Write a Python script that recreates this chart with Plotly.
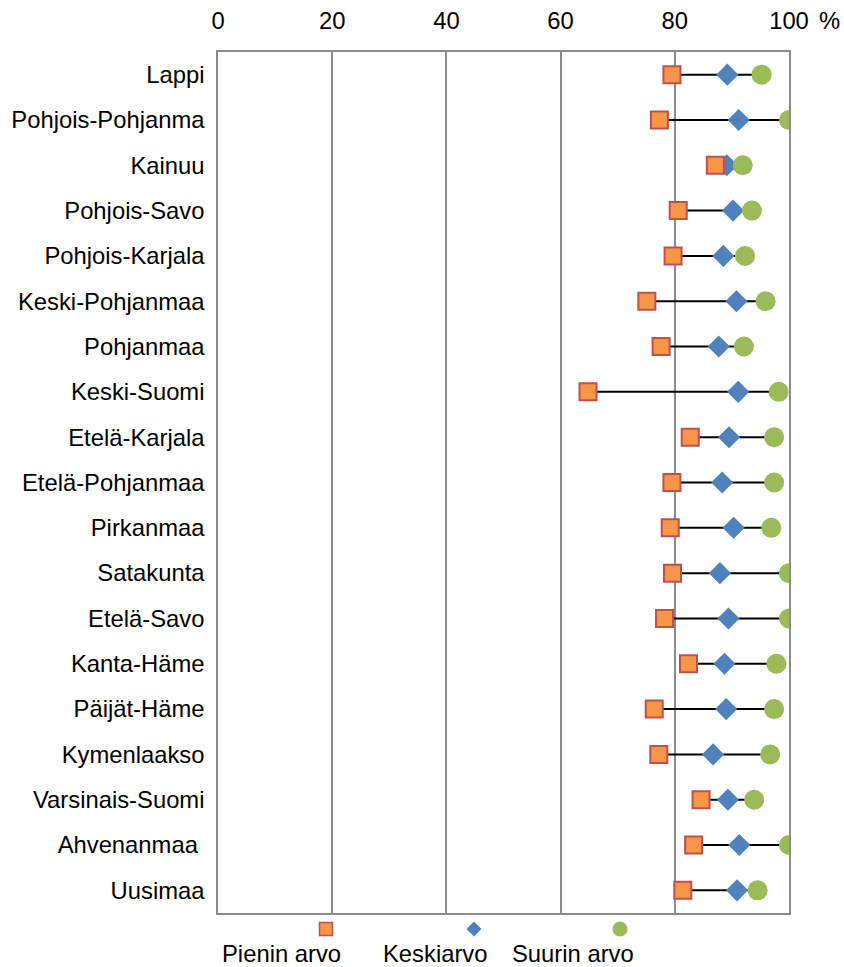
import plotly.graph_objects as go

regions = ["Lappi", "Pohjois-Pohjanma", "Kainuu", "Pohjois-Savo", "Pohjois-Karjala",
           "Keski-Pohjanmaa", "Pohjanmaa", "Keski-Suomi", "Etelä-Karjala", "Etelä-Pohjanmaa",
           "Pirkanmaa", "Satakunta", "Etelä-Savo", "Kanta-Häme", "Päijät-Häme",
           "Kymenlaakso", "Varsinais-Suomi", "Ahvenanmaa\u00a0", "Uusimaa"]
pienin = [79.5, 77.3, 87.1, 80.6, 79.7, 75.1, 77.6, 64.8, 82.7, 79.5,
          79.2, 79.6, 78.2, 82.4, 76.4, 77.2, 84.6, 83.3, 81.4]
keski = [89.2, 91.2, 89.1, 90.2, 88.5, 90.8, 87.7, 91.1, 89.5, 88.3,
         90.3, 87.9, 89.4, 88.7, 89.0, 86.7, 89.3, 91.3, 90.9]
suurin = [95.2, 100, 91.9, 93.5, 92.3, 95.9, 92.1, 98.2, 97.4, 97.4,
          96.9, 100, 100, 97.8, 97.4, 96.7, 93.9, 100, 94.5]
tick_vals = [0, 20, 40, 60, 80, 100]
legend_names = ["Pienin arvo", "Keskiarvo", "Suurin arvo"]

SQ_FILL, SQ_LINE = "#F79646", "#C0504D"
DIA = "#4F81BD"
CIR = "#9BBB59"
GRID = "#8C8C8C"
FONT = "Liberation Sans, Arial, sans-serif"
FS = 23.8

FIG_W, FIG_H = 844, 967
PL, PR, PT, PB = 218, 789, 52, 913  # plot area in page pixels

lx, ly = [], []
for r, a, b in zip(regions, pienin, suurin):
    lx += [a, b, None]
    ly += [r, r, None]

fig = go.Figure()
fig.add_trace(go.Scatter(x=lx, y=ly, mode="lines", line=dict(color="black", width=2),
                         hoverinfo="skip", showlegend=False))
fig.add_trace(go.Scatter(x=keski, y=regions, mode="markers", name=legend_names[1],
                         marker=dict(symbol="diamond", size=17, color=DIA, line=dict(width=0))))
fig.add_trace(go.Scatter(x=pienin, y=regions, mode="markers", name=legend_names[0],
                         marker=dict(symbol="square", size=17, color=SQ_FILL,
                                     line=dict(color=SQ_LINE, width=2))))
fig.add_trace(go.Scatter(x=suurin, y=regions, mode="markers", name=legend_names[2],
                         marker=dict(symbol="circle", size=20, color=CIR, line=dict(width=0))))

fig.update_layout(
    width=FIG_W, height=FIG_H,
    margin=dict(l=PL, r=FIG_W - PR, t=PT, b=FIG_H - PB, autoexpand=False),
    paper_bgcolor="white", plot_bgcolor="white",
    showlegend=False,
    font=dict(family=FONT, size=FS, color="black"),
    xaxis=dict(range=[0, 100], side="top", tickvals=tick_vals,
               showgrid=True, gridcolor=GRID, gridwidth=1.5,
               showline=True, linecolor=GRID, linewidth=1.5, mirror=True,
               zeroline=False, ticks="", ticklabelstandoff=12, automargin=False,
               tickfont=dict(size=FS)),
    yaxis=dict(type="category", categoryorder="array", categoryarray=regions,
               range=[18.5, -0.5], showgrid=False,
               showline=True, linecolor=GRID, linewidth=1.5, mirror=True,
               ticks="", ticklabelstandoff=7, automargin=False, tickfont=dict(size=FS)),
)

W, H = PR - PL, PB - PT
def px(xp):
    return (xp - PL) / W
def py(yp):
    return (PB - yp) / H

fig.add_annotation(x=px(829), y=py(20), xref="paper", yref="paper", text="%",
                   xanchor="center", yanchor="middle", showarrow=False, font=dict(size=FS))

# manual legend: marker above label
leg_marker_x = [326, 474, 620]
leg_text_x = [281, 435, 573]
for i, name in enumerate(legend_names):
    cx, cy = leg_marker_x[i], 929
    if i == 0:
        s = 6.5
        fig.add_shape(type="rect", xref="paper", yref="paper",
                      x0=px(cx - s), x1=px(cx + s), y0=py(cy + s), y1=py(cy - s),
                      fillcolor=SQ_FILL, line=dict(color=SQ_LINE, width=1.5))
    elif i == 1:
        s = 7.5
        path = "M {} {} L {} {} L {} {} L {} {} Z".format(
            px(cx), py(cy - s), px(cx + s), py(cy), px(cx), py(cy + s), px(cx - s), py(cy))
        fig.add_shape(type="path", xref="paper", yref="paper", path=path,
                      fillcolor=DIA, line=dict(width=0))
    else:
        s = 7.5
        fig.add_shape(type="circle", xref="paper", yref="paper",
                      x0=px(cx - s), x1=px(cx + s), y0=py(cy + s), y1=py(cy - s),
                      fillcolor=CIR, line=dict(width=0))
    fig.add_annotation(x=px(leg_text_x[i]), y=py(953), xref="paper", yref="paper",
                       xanchor="center", yanchor="middle",
                       text=name, showarrow=False, font=dict(size=FS))

fig.write_html("out.html", config={"displayModeBar": False},
               post_script="document.body.style.margin='0';document.body.style.overflow='hidden';")
